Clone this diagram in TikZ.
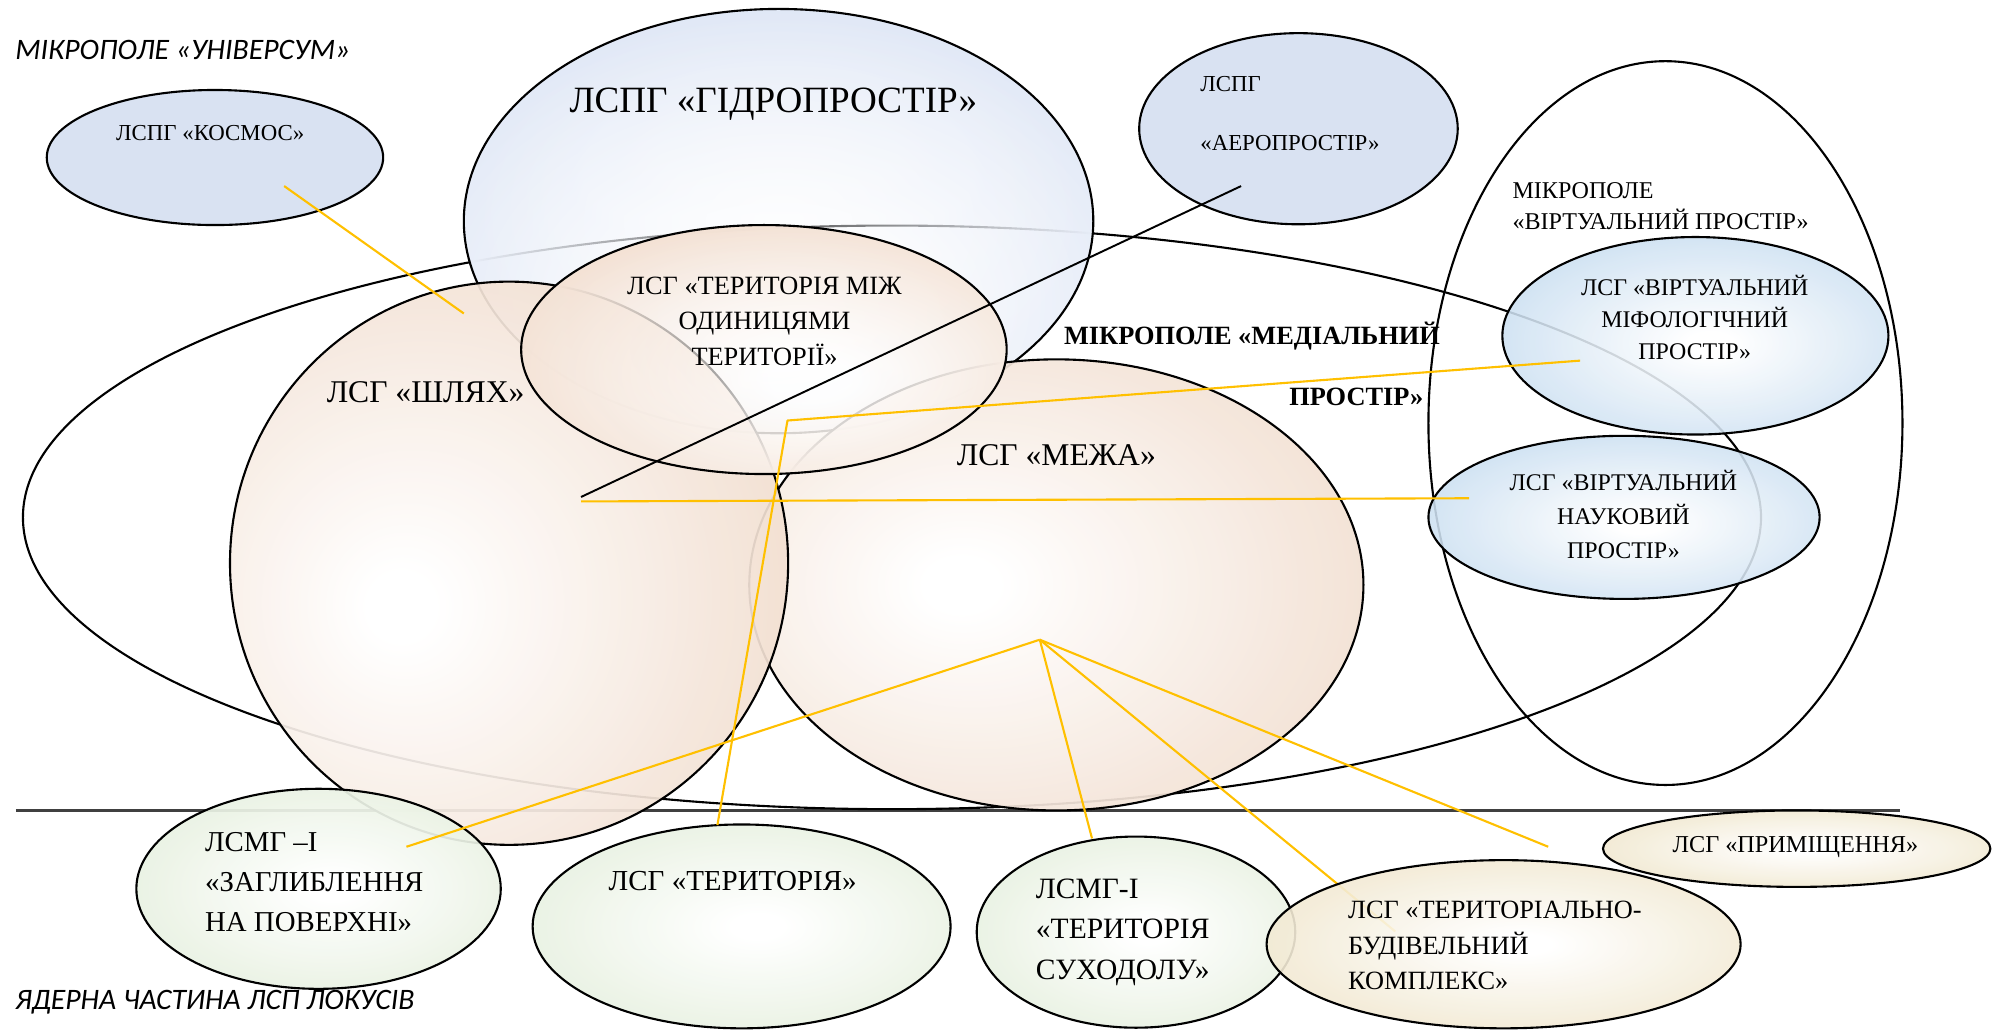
\documentclass[tikz,border=0pt]{standalone}
\usepackage{fontspec}
\setmainfont{Liberation Serif}
\newfontfamily\calibrifont{Carlito}
\usetikzlibrary{fadings}
\definecolor{peach}{RGB}{240,217,200}
\definecolor{lblue}{RGB}{217,226,242}
\definecolor{hblue}{RGB}{214,224,243}
\definecolor{vblue}{RGB}{186,213,237}
\definecolor{lgreen}{RGB}{224,237,215}
\definecolor{tanc}{RGB}{237,225,193}
\definecolor{ylw}{RGB}{255,192,0}
\pgfdeclareradialshading{shShl}{\pgfpoint{-10bp}{-4bp}}{color(0bp)=(white); color(3bp)=(white); color(38bp)=(peach); color(100bp)=(peach)}
\pgfdeclareradialshading{shMez}{\pgfpoint{-8bp}{0bp}}{color(0bp)=(white); color(3bp)=(white); color(38bp)=(peach); color(100bp)=(peach)}
\pgfdeclareradialshading{shTM}{\pgfpoint{5bp}{-6bp}}{color(0bp)=(white); color(4bp)=(white); color(38bp)=(peach); color(100bp)=(peach)}
\pgfdeclareradialshading{shHyd}{\pgfpoint{0bp}{-12bp}}{color(0bp)=(white); color(5bp)=(white); color(42bp)=(hblue); color(100bp)=(hblue)}
\pgfdeclareradialshading{shVir}{\pgfpoint{2bp}{-2bp}}{color(0bp)=(white); color(3bp)=(white); color(36bp)=(vblue); color(100bp)=(vblue)}
\pgfdeclareradialshading{shGrn}{\pgfpoint{2bp}{0bp}}{color(0bp)=(white); color(3bp)=(white); color(36bp)=(lgreen); color(100bp)=(lgreen)}
\pgfdeclareradialshading{shTan}{\pgfpoint{2bp}{0bp}}{color(0bp)=(white); color(3bp)=(white); color(36bp)=(tanc); color(100bp)=(tanc)}
\tikzfading[name=fadeHyd, inner color=transparent!65, outer color=transparent!0]
\tikzfading[name=fadeTM, inner color=transparent!45, outer color=transparent!0]
\newcommand\mlc[1]{\begin{tabular}[t]{@{}c@{}}#1\end{tabular}}
\newcommand\mll[1]{\begin{tabular}[t]{@{}l@{}}#1\end{tabular}}
\begin{document}
\begin{tikzpicture}[x=0.12742mm, y=-0.12742mm, line join=round,
  outl/.style={draw=black, line width=0.6pt},
  ylink/.style={draw=ylw, line width=0.6pt},
  blink/.style={draw=black, line width=0.55pt},
  lbl/.style={inner sep=0pt, outer sep=0pt, text=black}]
\useasboundingbox[fill=white] (0,0) rectangle (1568,808);
% centres
\coordinate (cMed) at (700,406);
\coordinate (cVir) at (1307,332);
\coordinate (cHyd) at (611,173.5);
\coordinate (cKos) at (168.7,123.6);
\coordinate (cAer) at (1019,101);
\coordinate (cMez) at (829,459);
\coordinate (cShl) at (399.5,442);
\coordinate (cTM) at (599.5,274.3);
\coordinate (cMif) at (1330.5,263.5);
\coordinate (cNau) at (1274.5,406);
\coordinate (cZag) at (250,697.5);
\coordinate (cTer) at (582,727);
\coordinate (cSuh) at (891.5,731.5);
\coordinate (cBud) at (1180,741);
\coordinate (cPri) at (1410,666);
% connector ends
\coordinate (hl1) at (12.5,636);
\coordinate (hl2) at (1491,636);
\coordinate (pKos) at (223,146);
\coordinate (pShlK) at (364,246);
\coordinate (pShlB) at (456,390);
\coordinate (pAer) at (974,146);
\coordinate (pShlY) at (456,393.5);
\coordinate (pNau) at (1153,391);
\coordinate (pMif) at (1240,283);
\coordinate (pBend) at (618,330);
\coordinate (pTer) at (563,647.5);
\coordinate (hub) at (816,502);
\coordinate (pZag) at (319,664.5);
\coordinate (pSuh) at (857,658);
\coordinate (pBud) at (1095,731);
\coordinate (pPri) at (1215,664.5);
% base layer
\draw[line width=1.1pt, draw=black!75] (hl1) -- (hl2);
\draw[outl] (cMed) ellipse [x radius=682, y radius=229];
\draw[outl] (cVir) ellipse [x radius=186, y radius=284];
% hydro
\shade[shading=shHyd, path fading=fadeHyd] (cHyd) ellipse [x radius=247, y radius=166.5];
\draw[outl] (cHyd) ellipse [x radius=247, y radius=166.5];
% kosmos, aero
\filldraw[fill=lblue, outl] (cKos) ellipse [x radius=132, y radius=53];
\filldraw[fill=lblue, outl] (cAer) ellipse [x radius=125, y radius=75];
% mezha
\shade[shading=shMez, fill opacity=.92] (cMez) ellipse [x radius=241, y radius=177];
\draw[outl] (cMez) ellipse [x radius=241, y radius=177];
% shliakh
\shade[shading=shShl, fill opacity=.92] (cShl) ellipse [x radius=219, y radius=221];
\draw[outl] (cShl) ellipse [x radius=219, y radius=221];
% terytoriia mizh
\shade[shading=shTM, path fading=fadeTM] (cTM) ellipse [x radius=190.5, y radius=97.7];
\draw[outl] (cTM) ellipse [x radius=190.5, y radius=97.7];
% virtual
\shade[shading=shVir, fill opacity=.88] (cMif) ellipse [x radius=151.5, y radius=77.5];
\draw[outl] (cMif) ellipse [x radius=151.5, y radius=77.5];
\shade[shading=shVir, fill opacity=.88] (cNau) ellipse [x radius=153.5, y radius=64];
\draw[outl] (cNau) ellipse [x radius=153.5, y radius=64];
% connector partly under the building ellipse
\draw[ylink] (hub) -- (pBud);
% bottom ellipses
\shade[shading=shGrn, fill opacity=.92] (cZag) ellipse [x radius=143, y radius=78.5];
\draw[outl] (cZag) ellipse [x radius=143, y radius=78.5];
\shade[shading=shGrn, fill opacity=.92] (cTer) ellipse [x radius=164, y radius=80];
\draw[outl] (cTer) ellipse [x radius=164, y radius=80];
\shade[shading=shGrn, fill opacity=.92] (cSuh) ellipse [x radius=125, y radius=75];
\draw[outl] (cSuh) ellipse [x radius=125, y radius=75];
\shade[shading=shTan, fill opacity=.9] (cBud) ellipse [x radius=186, y radius=66];
\draw[outl] (cBud) ellipse [x radius=186, y radius=66];
\shade[shading=shTan, fill opacity=.92] (cPri) ellipse [x radius=152, y radius=30];
\draw[outl] (cPri) ellipse [x radius=152, y radius=30];
% connectors
\draw[ylink] (pKos) -- (pShlK);
\draw[blink] (pShlB) -- (pAer);
\draw[ylink] (pShlY) -- (pNau);
\draw[ylink] (pMif) -- (pBend) -- (pTer);
\draw[ylink] (hub) -- (pZag);
\draw[ylink] (hub) -- (pSuh);
\draw[ylink] (hub) -- (pPri);
% texts
\node[lbl, anchor=base west, font=\calibrifont\itshape\fontsize{8.45}{10}\selectfont] (tUni) at (12,47) {МІКРОПОЛЕ «УНІВЕРСУМ»};
\node[lbl, anchor=base, font=\fontsize{10.55}{12}\selectfont] (tHyd) at (607,88) {ЛСПГ «ГІДРОПРОСТІР»};
\node[lbl, anchor=base, font=\fontsize{6.5}{8}\selectfont] (tKos) at (165,110) {ЛСПГ «КОСМОС»};
\node[lbl, anchor=base west, font=\fontsize{6.5}{8}\selectfont] (tAer1) at (942,72) {ЛСПГ};
\node[lbl, anchor=base west, font=\fontsize{6.5}{8}\selectfont] (tAer2) at (942,118) {«АЕРОПРОСТІР»};
\node[lbl, anchor=base west, font=\fontsize{6.85}{8.7}\selectfont] (tVir) at (1187,156) {\mll{МІКРОПОЛЕ\\«ВІРТУАЛЬНИЙ ПРОСТІР»}};
\node[lbl, anchor=base, font=\fontsize{6.8}{9.05}\selectfont] (tMif) at (1330,232) {\mlc{ЛСГ «ВІРТУАЛЬНИЙ\\МІФОЛОГІЧНИЙ\\ПРОСТІР»}};
\node[lbl, anchor=base, font=\fontsize{6.8}{9.6}\selectfont] (tNau) at (1274,385) {\mlc{ЛСГ «ВІРТУАЛЬНИЙ\\НАУКОВИЙ\\ПРОСТІР»}};
\node[lbl, anchor=base, font=\fontsize{7.5}{10.1}\selectfont] (tTM) at (600,231) {\mlc{ЛСГ «ТЕРИТОРІЯ МІЖ\\ОДИНИЦЯМИ\\ТЕРИТОРІЇ»}};
\node[lbl, anchor=base, font=\fontsize{9}{11}\selectfont] (tShl) at (334,316) {ЛСГ «ШЛЯХ»};
\node[lbl, anchor=base, font=\fontsize{9}{11}\selectfont] (tMez) at (829,365) {ЛСГ «МЕЖА»};
\node[lbl, anchor=base west, font=\bfseries\fontsize{7.5}{9}\selectfont] (tMed1) at (835,270) {МІКРОПОЛЕ «МЕДІАЛЬНИЙ};
\node[lbl, anchor=base east, font=\bfseries\fontsize{7.5}{9}\selectfont] (tMed2) at (1117,318) {ПРОСТІР»};
\node[lbl, anchor=base west, font=\fontsize{8.2}{11.4}\selectfont] (tZag) at (161,668.5) {\mll{ЛСМГ –І\\«ЗАГЛИБЛЕННЯ\\НА ПОВЕРХНІ»}};
\node[lbl, anchor=base, font=\fontsize{8.25}{10}\selectfont] (tTer) at (575,698.5) {ЛСГ «ТЕРИТОРІЯ»};
\node[lbl, anchor=base west, font=\fontsize{8.4}{11.56}\selectfont] (tSuh) at (813,705) {\mll{ЛСМГ-І\\«ТЕРИТОРІЯ\\СУХОДОЛУ»}};
\node[lbl, anchor=base west, font=\fontsize{7.5}{10.1}\selectfont] (tBud) at (1058,721) {\mll{ЛСГ «ТЕРИТОРІАЛЬНО-\\БУДІВЕЛЬНИЙ\\КОМПЛЕКС»}};
\node[lbl, anchor=base, font=\fontsize{6.9}{8}\selectfont] (tPri) at (1409,669) {ЛСГ «ПРИМІЩЕННЯ»};
\node[lbl, anchor=base west, font=\calibrifont\itshape\fontsize{8.45}{10}\selectfont] (tYad) at (12,792) {ЯДЕРНА ЧАСТИНА ЛСП ЛОКУСІВ};
\end{tikzpicture}
\end{document}
